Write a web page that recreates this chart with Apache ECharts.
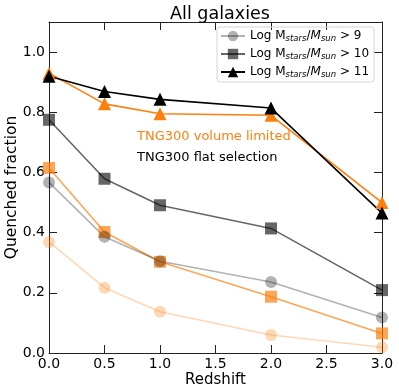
<!DOCTYPE html>
<html>
<head>
<meta charset="utf-8">
<script src="https://cdn.jsdelivr.net/npm/echarts@6/dist/echarts.min.js"></script>
<style>
  html, body { margin: 0; padding: 0; background: #fff; }
  #chart { width: 399px; height: 392px; }
</style>
</head>
<body>
<div id="chart"></div>
<script>
// Data
const redshifts = [0.0, 0.5, 1.0, 2.0, 3.0];
const yTicks = [0, 0.2, 0.4, 0.6, 0.8, 1.0];

// TNG300 flat selection
const flat9 = [0.567, 0.386, 0.305, 0.236, 0.118];
const flat10 = [0.775, 0.579, 0.491, 0.414, 0.209];
const flat11 = [0.920, 0.869, 0.843, 0.814, 0.465];

// TNG300 volume limited
const vol9 = [0.369, 0.217, 0.137, 0.060, 0.019];
const vol10 = [0.615, 0.402, 0.303, 0.187, 0.065];
const vol11 = [0.930, 0.828, 0.795, 0.790, 0.500];

const legendNames = ['m9', 'm10', 'm11'];
const legendCuts = { m9: '9', m10: '10', m11: '11' };

const FONT = 'DejaVu Sans';

function pairs(vals) {
  return redshifts.map((z, i) => [z, vals[i]]);
}

function makeSeries(name, vals, color, symbol, size) {
  return {
    name: name,
    type: 'line',
    data: pairs(vals),
    symbol: symbol,
    symbolSize: size,
    showSymbol: true,
    lineStyle: { color: color, width: 1.6 },
    itemStyle: { color: color },
    emphasis: { disabled: true },
    animation: false
  };
}

const chart = echarts.init(document.getElementById('chart'));

const axisLineStyle = { show: true, onZero: false, lineStyle: { color: '#222', width: 1 } };
const tickStyle = { show: true, inside: true, length: 8, lineStyle: { color: '#222', width: 1 } };

chart.setOption({
  animation: false,
  title: {
    text: 'All galaxies',
    left: 215,
    top: 0,
    textAlign: 'center',
    textStyle: { fontFamily: FONT, fontSize: 17.5, fontWeight: 'normal', color: '#000' }
  },
  grid: { left: 49, right: 17, top: 22, bottom: 39, containLabel: false, outerBoundsMode: 'none' },
  legend: {
    data: legendNames,
    left: 217,
    top: 27,
    orient: 'vertical',
    itemWidth: 24,
    itemHeight: 13,
    itemGap: 5,
    padding: [3, 5, 3, 3],
    borderColor: '#d6d6d6',
    borderWidth: 1,
    borderRadius: 3,
    selectedMode: false,
    formatter: function (name) {
      return '{a|Log M}{s|stars}{a|/}{i|M}{s|sun}{a| > ' + legendCuts[name] + '}';
    },
    textStyle: {
      fontFamily: FONT,
      fontSize: 12,
      color: '#000',
      rich: {
        a: { fontFamily: FONT, fontSize: 12, color: '#000' },
        i: { fontFamily: FONT, fontSize: 12, fontStyle: 'italic', color: '#000' },
        s: { fontFamily: FONT, fontSize: 8.5, fontStyle: 'italic', color: '#000', verticalAlign: 'bottom', padding: [5, 0, 0, 0] }
      }
    }
  },
  xAxis: [
    {
      type: 'value',
      min: 0,
      max: 3,
      interval: 0.5,
      name: 'Redshift',
      nameLocation: 'middle',
      nameGap: 20,
      nameMoveOverlap: false,
      nameTextStyle: { fontFamily: FONT, fontSize: 15, color: '#000' },
      axisLine: axisLineStyle,
      axisTick: tickStyle,
      splitLine: { show: false },
      axisLabel: {
        fontFamily: FONT, fontSize: 14, color: '#000', margin: 4,
        formatter: v => v.toFixed(1)
      }
    },
    {
      type: 'value',
      position: 'top',
      min: 0,
      max: 3,
      interval: 0.5,
      axisLine: axisLineStyle,
      axisTick: tickStyle,
      splitLine: { show: false },
      axisLabel: { show: false }
    }
  ],
  yAxis: [
    {
      type: 'value',
      min: 0,
      max: 1.1,
      interval: 0.2,
      name: 'Quenched fraction',
      nameLocation: 'middle',
      nameGap: 29,
      nameMoveOverlap: false,
      nameTextStyle: { fontFamily: FONT, fontSize: 15.5, color: '#000' },
      axisLine: axisLineStyle,
      axisTick: tickStyle,
      splitLine: { show: false },
      axisLabel: {
        fontFamily: FONT, fontSize: 14, color: '#000', margin: 4,
        formatter: v => (yTicks.some(t => Math.abs(t - v) < 1e-6) ? v.toFixed(1) : '')
      }
    },
    {
      type: 'value',
      position: 'right',
      min: 0,
      max: 1.1,
      interval: 0.2,
      axisLine: axisLineStyle,
      axisTick: tickStyle,
      splitLine: { show: false },
      axisLabel: { show: false }
    }
  ],
  graphic: [
    {
      type: 'text',
      left: 137,
      top: 130,
      style: { text: 'TNG300 volume limited', fill: '#ff7f0e', font: '13px "DejaVu Sans"' }
    },
    {
      type: 'text',
      left: 137,
      top: 151,
      style: { text: 'TNG300 flat selection', fill: '#000', font: '13px "DejaVu Sans"' }
    }
  ],
  series: [
    makeSeries('v9', vol9, 'rgba(255,127,14,0.3)', 'circle', 12),
    makeSeries('v10', vol10, 'rgba(255,127,14,0.7)', 'rect', 12),
    makeSeries('m9', flat9, 'rgba(0,0,0,0.3)', 'circle', 12),
    makeSeries('m10', flat10, 'rgba(0,0,0,0.6)', 'rect', 12),
    makeSeries('v11', vol11, '#ff7f0e', 'triangle', 13),
    makeSeries('m11', flat11, '#000', 'triangle', 13)
  ]
});
</script>
</body>
</html>
